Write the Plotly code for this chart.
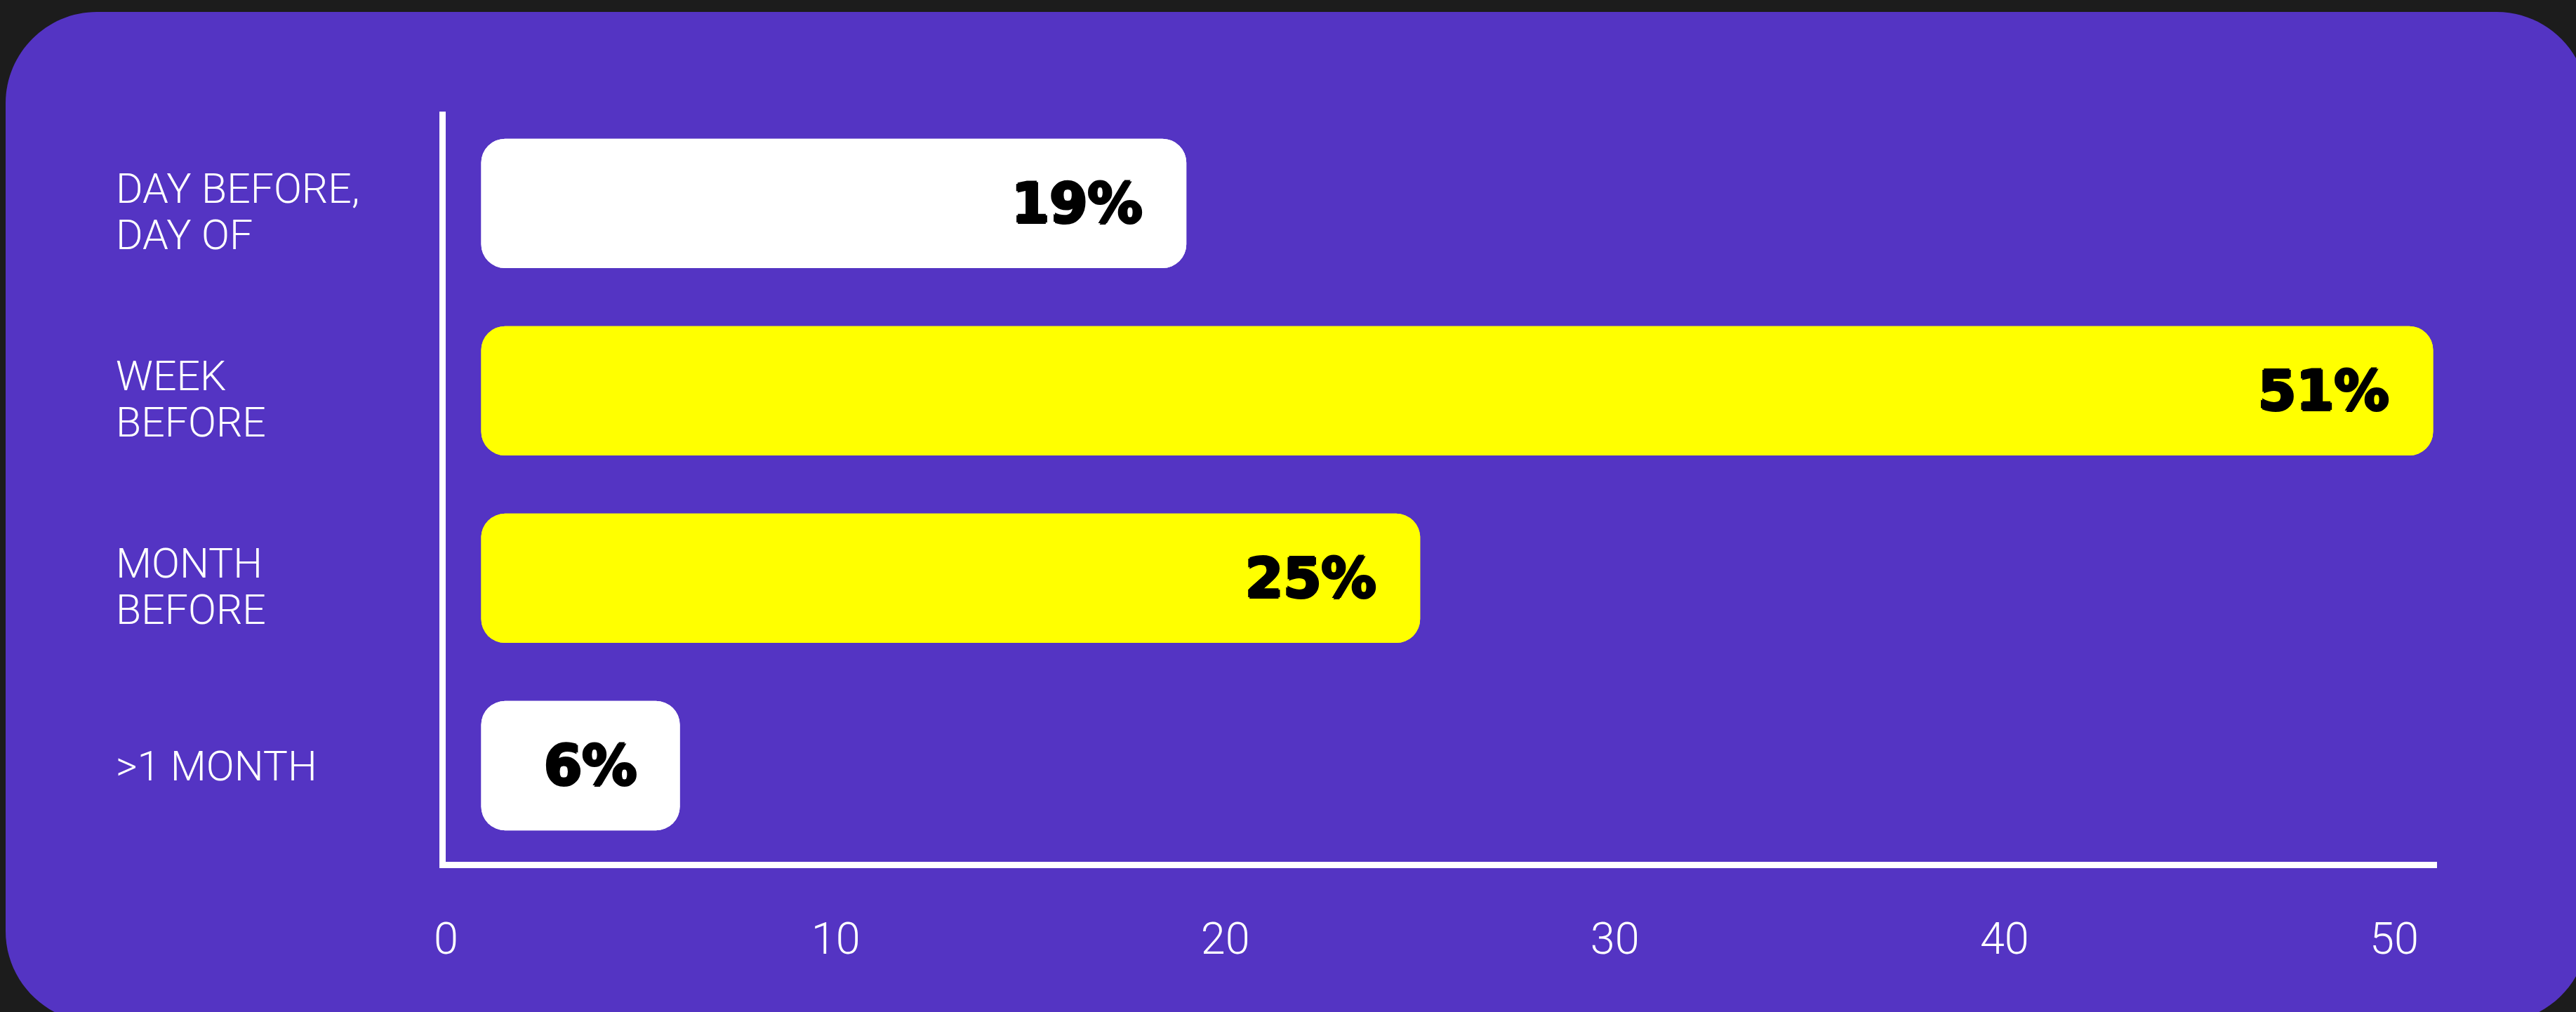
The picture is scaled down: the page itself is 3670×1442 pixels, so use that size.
import plotly.graph_objects as go

# ---------------- data ----------------
categories = ["DAY BEFORE,<br>DAY OF", "WEEK<br>BEFORE", "MONTH<br>BEFORE", ">1 MONTH"]
values = [19, 51, 25, 6]
value_labels = ["19%", "51%", "25%", "6%"]
bar_colors = ["#FFFFFF", "#FFFF00", "#FFFF00", "#FFFFFF"]
x_tick_values = [0, 10, 20, 30, 40, 50]

# ---------------- style / layout constants ----------------
W, H = 3670, 1442
X_MIN, X_MAX = -0.01, 51.1
UNIT_PX = 55.5
M_L, M_T, M_B = 635, 159, 214
PLOT_W = round((X_MAX - X_MIN) * UNIT_PX)
M_R = W - M_L - PLOT_W
PLOT_H = H - M_T - M_B
BAR_START = 0.9          # bars start slightly right of the axis line
PURPLE = "#5434C3"
DARK = "#1c1c1c"
LABEL_FONT = dict(family="Roboto", size=59, color="white", weight=300)
TICK_FONT = dict(family="Roboto", size=63, color="white", weight=300)
VALUE_FONT = dict(
    family="DejaVu Sans", size=78, color="black", weight="bold",
    shadow="2px 0px 0px black, -2px 0px 0px black, 0px 2px 0px black, 0px -2px 0px black",
)
LINE_PITCH = 66


def px_to_paper_x(px):
    return (px - M_L) / PLOT_W


def px_to_paper_y(py):
    return (H - M_B - py) / PLOT_H


# rounded card behind the chart (pixel geometry converted to paper coords)
card_l, card_r, card_t, card_b, rad = 8, 3687, 17, 1457, 130
L, R = px_to_paper_x(card_l), px_to_paper_x(card_r)
T, B = px_to_paper_y(card_t), px_to_paper_y(card_b)
rx, ry = rad / PLOT_W, rad / PLOT_H
k = 0.45  # bezier control factor
card_path = (
    f"M {L + rx},{T} L {R - rx},{T} "
    f"C {R - rx * k},{T} {R},{T - ry * k} {R},{T - ry} "
    f"L {R},{B + ry} "
    f"C {R},{B + ry * k} {R - rx * k},{B} {R - rx},{B} "
    f"L {L + rx},{B} "
    f"C {L + rx * k},{B} {L},{B + ry * k} {L},{B + ry} "
    f"L {L},{T - ry} "
    f"C {L},{T - ry * k} {L + rx * k},{T} {L + rx},{T} Z"
)

fig = go.Figure()

lengths = [v - BAR_START for v in values]

# two overlaid bars per category so that both ends get rounded corners
fig.add_trace(go.Bar(
    y=categories, x=lengths, base=[BAR_START] * len(values), orientation="h",
    marker=dict(color=bar_colors, cornerradius=34, line=dict(width=0)),
    width=0.69, hoverinfo="skip", showlegend=False,
))
fig.add_trace(go.Bar(
    y=categories, x=[-l for l in lengths], base=values, orientation="h",
    marker=dict(color=bar_colors, cornerradius=34, line=dict(width=0)),
    width=0.69, hoverinfo="skip", showlegend=False,
))

annotations = []
for cat, v, lab in zip(categories, values, value_labels):
    annotations.append(dict(
        x=v, y=cat, xref="x", yref="y", text=lab, showarrow=False,
        xanchor="right", yanchor="middle", xshift=-60, yshift=0,
        font=VALUE_FONT,
    ))
    lines = cat.split("<br>")
    n = len(lines)
    block_shift = -12 if n > 1 else 0
    for i, line in enumerate(lines):
        annotations.append(dict(
            x=px_to_paper_x(163), y=cat, xref="paper", yref="y", text=line,
            showarrow=False, xanchor="left", yanchor="middle", align="left",
            yshift=block_shift - (i - (n - 1) / 2) * LINE_PITCH,
            font=LABEL_FONT,
        ))

fig.update_layout(
    width=W, height=H, autosize=False,
    margin=dict(l=M_L, r=M_R, t=M_T, b=M_B, pad=0),
    paper_bgcolor=DARK, plot_bgcolor="rgba(0,0,0,0)",
    barmode="overlay",
    shapes=[dict(type="path", path=card_path, xref="paper", yref="paper",
                 fillcolor=PURPLE, line=dict(width=0), layer="below")],
    annotations=annotations,
    xaxis=dict(
        range=[X_MIN, X_MAX], tickmode="array", tickvals=x_tick_values,
        ticktext=[str(t) for t in x_tick_values],
        showgrid=False, zeroline=False, showline=True, linecolor="white",
        linewidth=9, ticks="", tickfont=TICK_FONT,
        ticklabelstandoff=46, fixedrange=True,
    ),
    yaxis=dict(
        type="category", categoryorder="array", categoryarray=categories,
        range=[3.513, -0.49], showgrid=False, zeroline=False, showline=True,
        linecolor="white", linewidth=9, showticklabels=False, ticks="",
        fixedrange=True,
    ),
)

fig.write_html("out.html", config={"displayModeBar": False})
